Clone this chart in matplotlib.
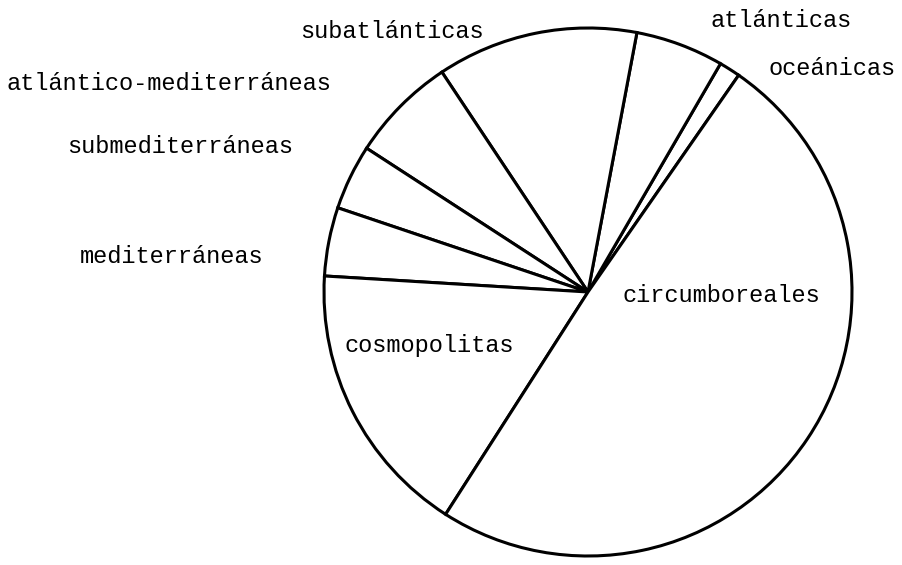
import matplotlib
matplotlib.use("Agg")
import matplotlib.pyplot as plt

# porcentajes (sentido antihorario desde oceanicas)
categorias = ["oceánicas", "atlánticas", "subatlánticas", "atlántico-mediterráneas",
              "submediterráneas", "mediterráneas", "cosmopolitas", "circumboreales"]
porcentajes = [1.3, 5.4, 12.3, 6.5, 4.0, 4.2, 16.9, 49.4]

# posicion de las etiquetas en pixeles (izquierda, linea base)
etiqueta_px = [(768, 75), (710, 27), (300, 38), (7, 90),
               (67, 153), (80, 263), (345, 352), (622, 302)]

W, H = 903, 565
cx, cy, r = 588, 292, 264

fig = plt.figure(figsize=(W / 100, H / 100), dpi=100)
ax = fig.add_axes([0, 0, 1, 1])
ax.pie(porcentajes, startangle=55.2, counterclock=True,
       colors=["white"] * len(porcentajes),
       wedgeprops=dict(edgecolor="black", linewidth=2.2))
ax.set_xlim(-cx / r, (W - cx) / r)
ax.set_ylim(-(H - cy) / r, cy / r)
ax.set_aspect("auto")
ax.axis("off")

for nombre, (px, py) in zip(categorias, etiqueta_px):
    ax.text((px - cx) / r, (cy - py) / r, nombre, ha="left", va="baseline",
            fontsize=17, family="Liberation Mono", color="black")

fig.savefig("out.png", dpi=100, facecolor="white")
